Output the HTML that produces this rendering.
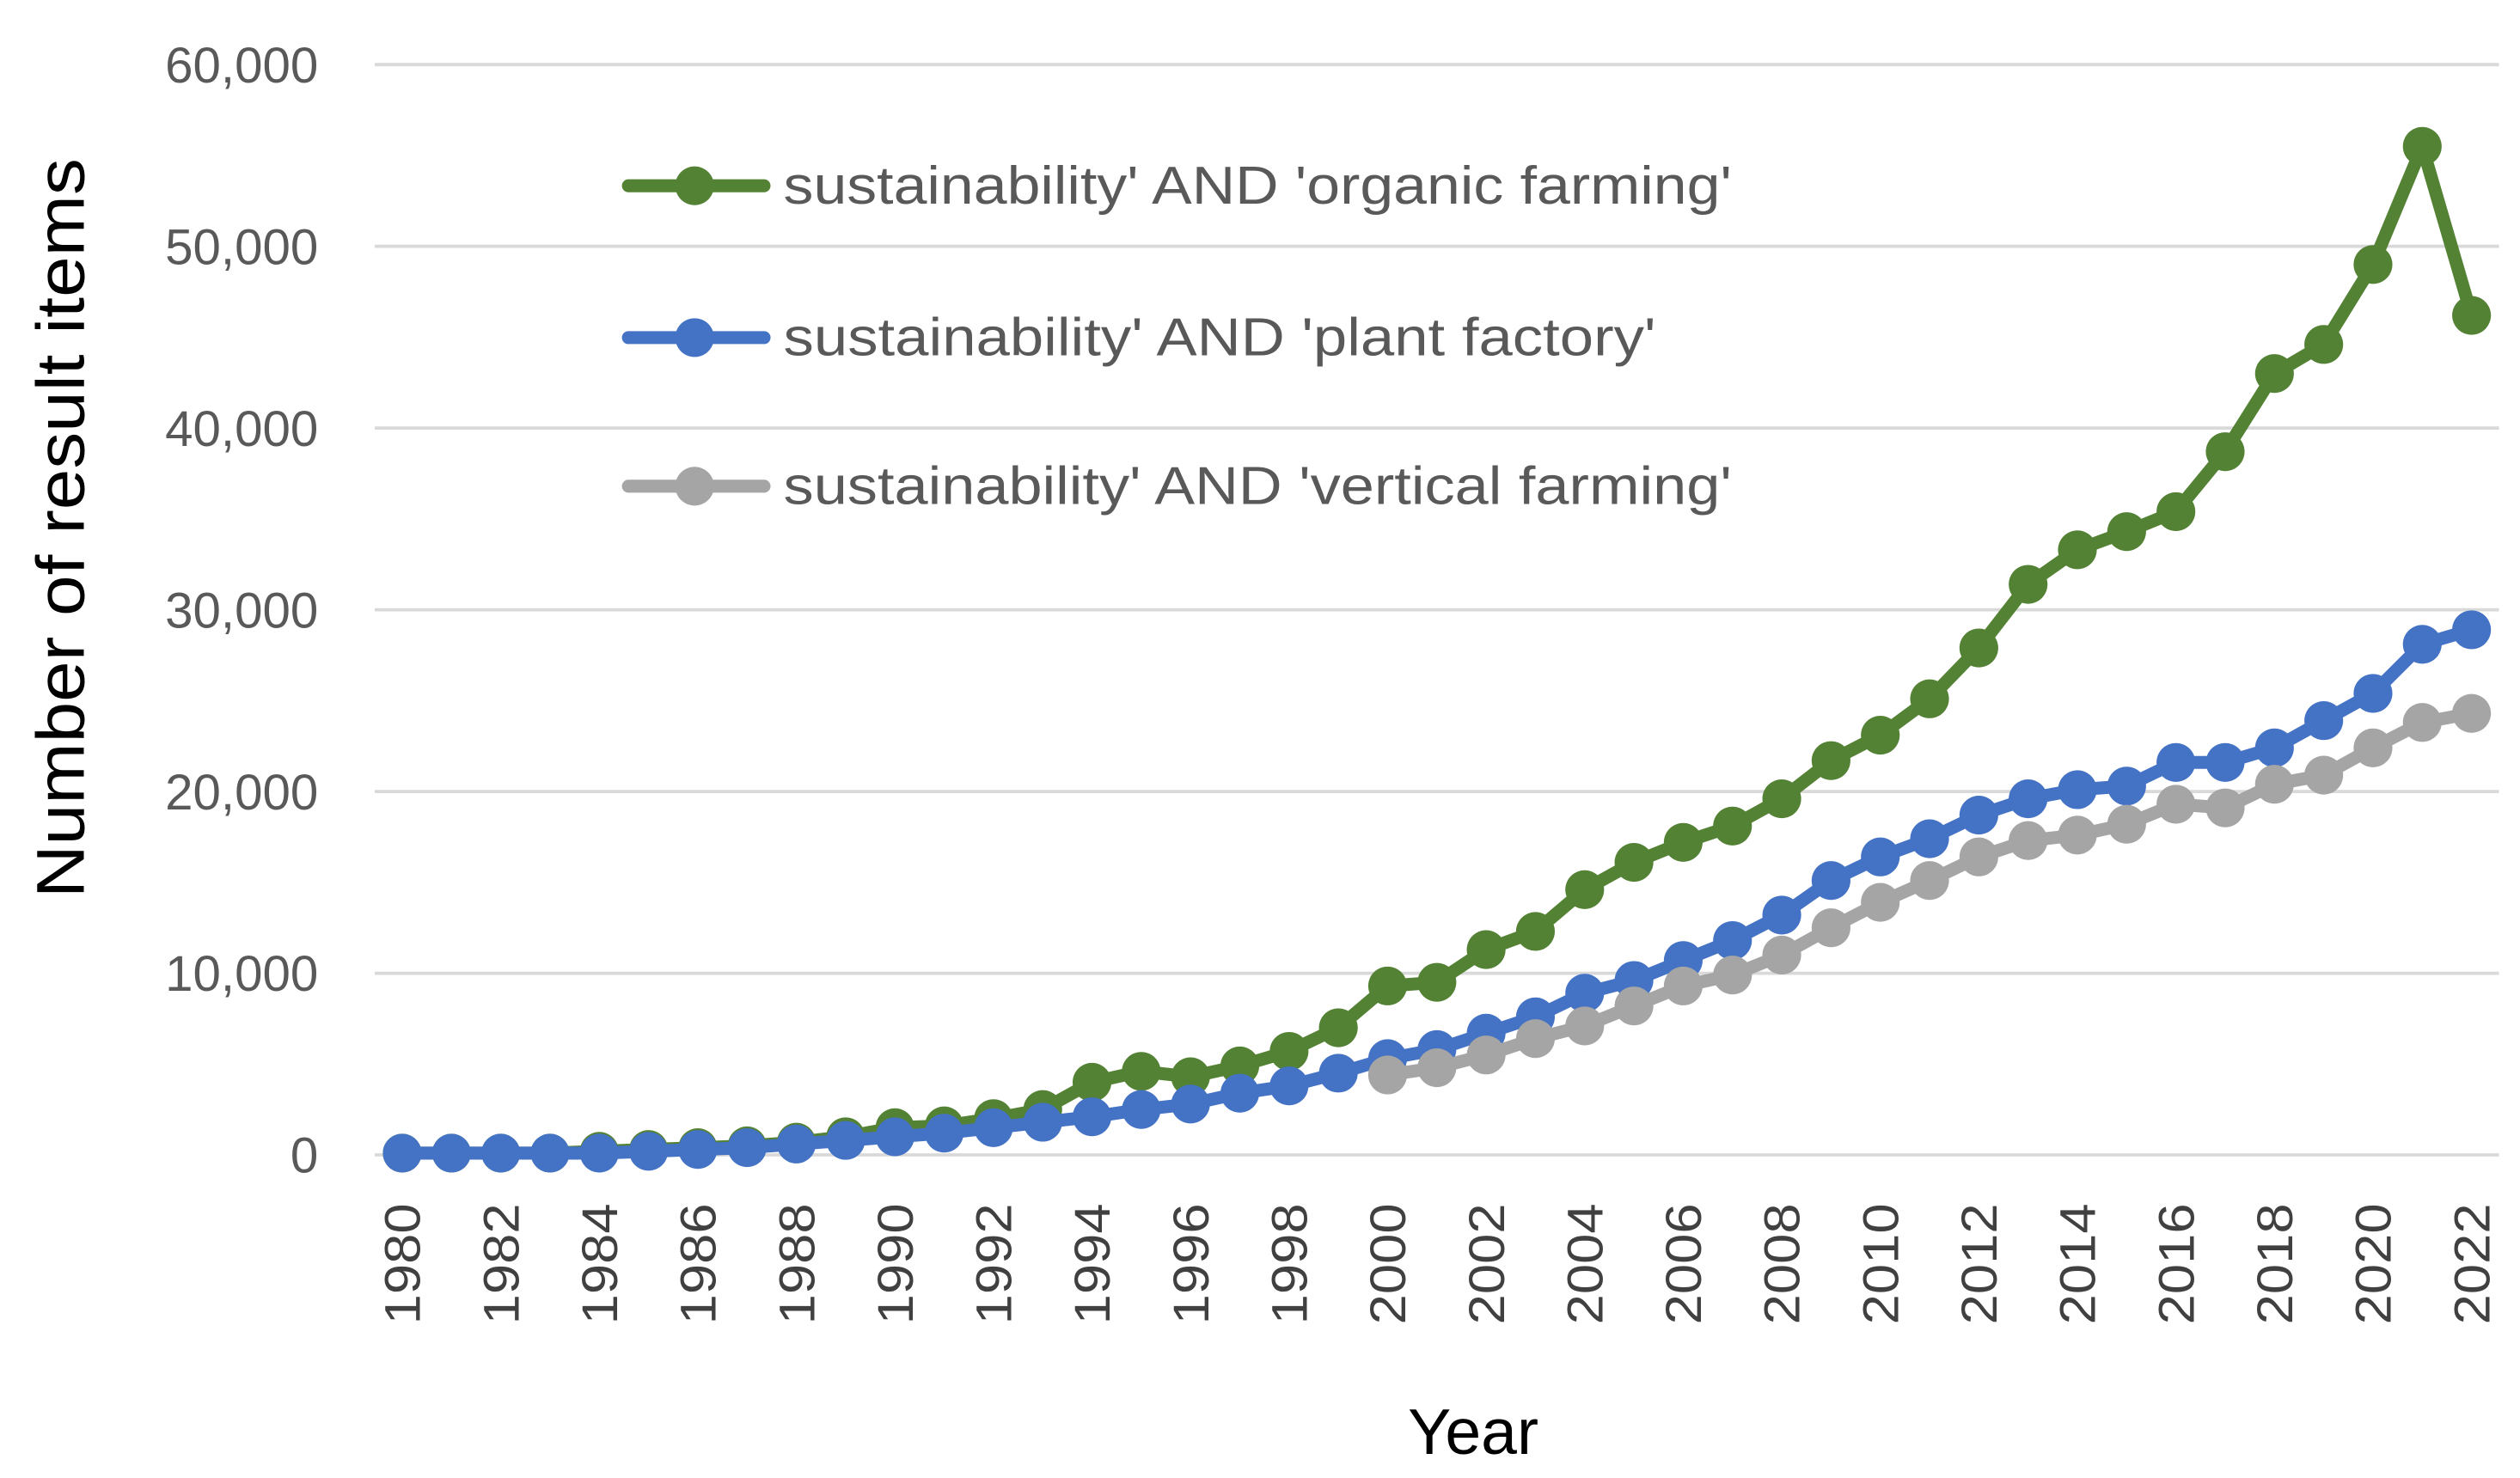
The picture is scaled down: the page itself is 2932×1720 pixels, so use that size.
<!DOCTYPE html>
<html><head><meta charset="utf-8"><style>
html,body{margin:0;padding:0;background:#fff;}
svg{display:block;}
text{font-family:"Liberation Sans",sans-serif;}
</style></head>
<body>
<svg id="chart" width="2932" height="1720" viewBox="0 0 1560 915" preserveAspectRatio="none" xmlns="http://www.w3.org/2000/svg">
<g id="grid"></g>
<g id="yticks"></g>
<g id="xticks"></g>
<g id="series"></g>
<text transform="translate(52,327) rotate(-90)" text-anchor="middle" font-size="42" fill="#000" textLength="458" lengthAdjust="spacingAndGlyphs">Number of result items</text>
<text x="912" y="900" text-anchor="middle" font-size="40" fill="#000">Year</text>
<g id="legend"></g>
</svg>
<script>
const years = [];
for (let y = 1980; y <= 2022; y++) years.push(y);
const organicFarming = [0.1,0.1,0.1,0.1,0.2,0.3,0.4,0.5,0.7,1.0,1.5,1.6,2.0,2.5,4.0,4.6,4.3,4.9,5.7,7.0,9.3,9.5,11.3,12.3,14.6,16.1,17.2,18.1,19.6,21.7,23.1,25.1,27.9,31.4,33.3,34.3,35.4,38.7,43.0,44.6,49.0,55.5,46.2];
const plantFactory = [0.1,0.1,0.1,0.1,0.1,0.2,0.3,0.4,0.6,0.8,1.0,1.2,1.5,1.8,2.1,2.5,2.8,3.4,3.8,4.5,5.3,5.8,6.7,7.6,8.9,9.6,10.7,11.8,13.2,15.1,16.4,17.4,18.7,19.6,20.1,20.3,21.6,21.6,22.4,23.9,25.4,28.1,28.9];
const verticalFarming = [null,null,null,null,null,null,null,null,null,null,null,null,null,null,null,null,null,null,null,null,4.4,4.8,5.5,6.4,7.1,8.2,9.3,9.9,11.0,12.5,13.9,15.1,16.4,17.3,17.6,18.2,19.3,19.1,20.4,20.9,22.4,23.8,24.3];
const yTickValues = [0,10,20,30,40,50,60];
const yTickLabels = ["0","10,000","20,000","30,000","40,000","50,000","60,000"];
const seriesNames = ["sustainability' AND 'organic farming'","sustainability' AND 'plant factory'","sustainability' AND 'vertical farming'"];

const NS = "http://www.w3.org/2000/svg";
const xScale = y => 249 + (y - 1980) * (1530 - 249) / 42;
const yScale = v => 715 - v * (675 / 60);
function mk(tag, attrs, parent) {
  const e = document.createElementNS(NS, tag);
  for (const k in attrs) e.setAttribute(k, attrs[k]);
  parent.appendChild(e);
  return e;
}
const grid = document.getElementById('grid');
const yt = document.getElementById('yticks');
yTickValues.forEach((v, i) => {
  const l = mk('line', {x1: 232, x2: 1547, y1: yScale(v), y2: yScale(v), stroke: '#d9d9d9', 'stroke-width': 2}, grid);
  
  
  const t = mk('text', {x: 197, y: yScale(v) + 11, 'text-anchor': 'end', 'font-size': 31, fill: '#595959'}, yt);
  t.textContent = yTickLabels[i];
  
  
});
const xt = document.getElementById('xticks');
years.forEach(y => {
  if ((y - 1980) % 2 !== 0) return;
  const x = xScale(y);
  const t = mk('text', {transform: `translate(${x + 11},745) rotate(-90)`, 'text-anchor': 'end', 'font-size': 31, fill: '#404040', textLength: 75, lengthAdjust: 'spacingAndGlyphs'}, xt);
  t.textContent = String(y);
  
  
});
const colors = ['#548235', '#4472c4', '#a5a5a5'];
const seriesData = [organicFarming, plantFactory, verticalFarming];
const sg = document.getElementById('series');
seriesData.forEach((data, si) => {
  const g = mk('g', {}, sg);
  
  
  let d = '';
  data.forEach((v, i) => {
    if (v === null) return;
    d += (d ? 'L' : 'M') + xScale(years[i]) + ',' + yScale(v);
  });
  const p = mk('path', {d: d, fill: 'none', stroke: colors[si], 'stroke-width': 8, 'stroke-linejoin': 'round'}, g);
  
  
  data.forEach((v, i) => {
    if (v === null) return;
    const c = mk('circle', {cx: xScale(years[i]), cy: yScale(v), r: 12, fill: colors[si]}, g);
    
    
  });
});
const lg = document.getElementById('legend');
[115, 209, 301].forEach((ly, i) => {
  const g = mk('g', {}, lg);
  
  
  mk('line', {x1: 389, x2: 473, y1: ly, y2: ly, stroke: colors[i], 'stroke-width': 8, 'stroke-linecap': 'round'}, g);
  mk('circle', {cx: 430, cy: ly, r: 12, fill: colors[i]}, g);
  const t = mk('text', {x: 485, y: ly + 11, 'font-size': 33, fill: '#595959', textLength: [587, 540, 587][i], lengthAdjust: 'spacingAndGlyphs'}, g);
  t.textContent = seriesNames[i];
  
  
});
</script>
</body></html>
